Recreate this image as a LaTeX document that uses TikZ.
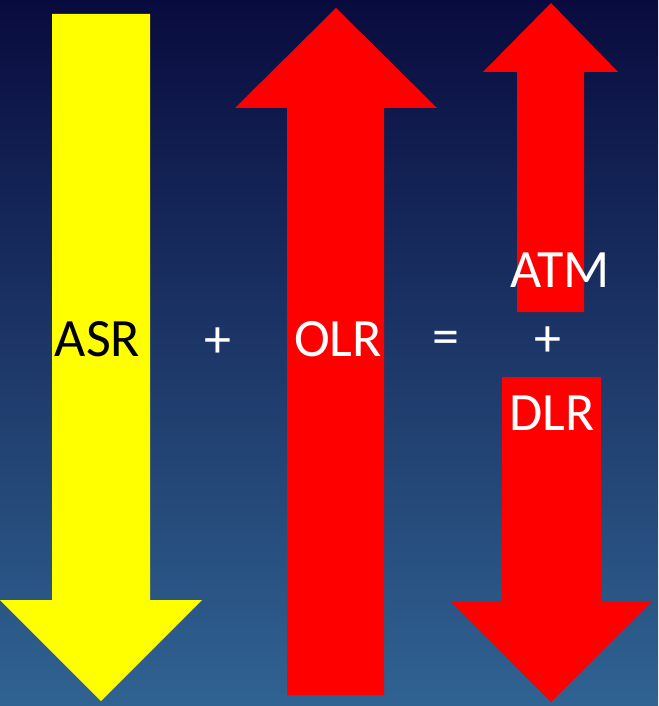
\documentclass[tikz,border=0pt]{standalone}
\usepackage{fontspec}
\setmainfont{Carlito}
\definecolor{skytop}{RGB}{9,11,62}
\definecolor{skybottom}{RGB}{48,99,146}
\definecolor{fluxred}{RGB}{255,0,0}
\definecolor{fluxyellow}{RGB}{255,255,0}
\tikzset{
	fluxlabel/.style={font=\fontsize{54}{60}\selectfont, text=white, inner sep=0pt},
}
\begin{document}
\begin{tikzpicture}[x=1pt,y=-1pt]
			%background
			\shade[top color=skytop, bottom color=skybottom] (0,0) rectangle (658,706);
			\useasboundingbox (0,0) rectangle (658,706);

			%ASR, down
			\fill[fluxyellow] (52,14) -- (150,14) -- (150,600) -- (202,600)
			-- (101,701) -- (0,600) -- (52,600) -- cycle;

			%OLR, up
			\fill[fluxred] (287,695) -- (384,695) -- (384,108) -- (437,108)
			-- (336,8) -- (235,108) -- (287,108) -- cycle;

			%ATM, up
			\fill[fluxred] (517,312) -- (584,312) -- (584,72) -- (618,72)
			-- (551,3) -- (483,72) -- (517,72) -- cycle;

			%DLR, down
			\fill[fluxred] (502,377) -- (601,377) -- (601,601) -- (652,601)
			-- (551,702) -- (450,601) -- (502,601) -- cycle;

			%labels
			\node[fluxlabel,
			text=black,
			anchor=base] (ASR) at (97.5,356){ASR};

			\node[fluxlabel,
			anchor=base] (OLR) at (338,356){OLR};

			\node[fluxlabel] (Plus) at (218,343){+};

			\node[fluxlabel] (Equals) at (446,343){=};

			\node[fluxlabel,
			anchor=base] (ATM) at (560,287){ATM};

			\node[fluxlabel] (PlusRight) at (548,342){+};

			\node[fluxlabel,
			anchor=base] (DLR) at (552,430){DLR};
		\end{tikzpicture}
\end{document}
